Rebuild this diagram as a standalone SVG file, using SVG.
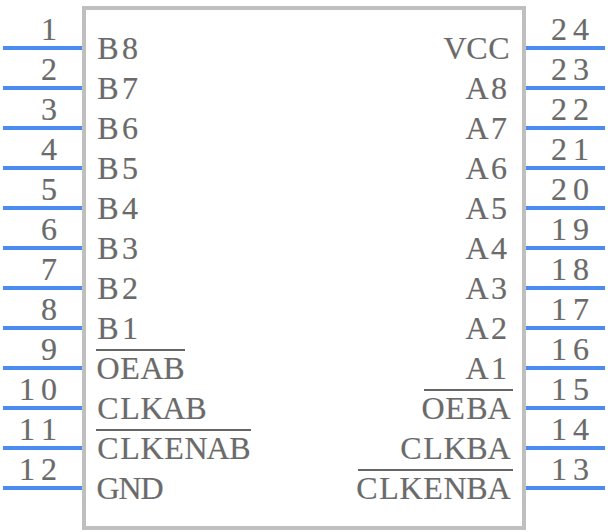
<svg xmlns="http://www.w3.org/2000/svg" width="608" height="532" viewBox="0 0 608 532">
<style>
text{font-family:"Liberation Serif",serif;font-size:32px;fill:#6a6a6a;stroke:#6a6a6a;stroke-width:.2px;text-anchor:middle}
.pin{stroke:#4a8cf0;stroke-width:4;fill:none}
.bar{stroke:#666;stroke-width:2;fill:none}
</style>
<rect width="608" height="532" fill="#fff"/>
<g id="body"><rect x="84" y="8" width="440" height="520" fill="#fff" stroke="#bfbfbf" stroke-width="4"/></g>
<g id="connectors">
<path class="pin" d="M3 48H82M3 88H82M3 128H82M3 168H82M3 208H82M3 248H82M3 288H82M3 328H82M3 368H82M3 408H82M3 448H82M3 488H82"/>
<path class="pin" d="M526 48H605M526 88H605M526 128H605M526 168H605M526 208H605M526 248H605M526 288H605M526 328H605M526 368H605M526 408H605M526 448H605M526 488H605"/>
</g>
<g id="pin-numbers-left">
<text x="49" y="40">1</text>
<text x="49" y="80">2</text>
<text x="49" y="120">3</text>
<text x="49" y="160">4</text>
<text x="49" y="200">5</text>
<text x="49" y="240">6</text>
<text x="49" y="280">7</text>
<text x="49" y="320">8</text>
<text x="49" y="360">9</text>
<text x="27 49" y="400">10</text>
<text x="27 49" y="440">11</text>
<text x="27 49" y="480">12</text>
</g>
<g id="pin-numbers-right">
<text x="559 581" y="40">24</text>
<text x="559 581" y="80">23</text>
<text x="559 581" y="120">22</text>
<text x="559 581" y="160">21</text>
<text x="559 581" y="200">20</text>
<text x="559 581" y="240">19</text>
<text x="559 581" y="280">18</text>
<text x="559 581" y="320">17</text>
<text x="559 581" y="360">16</text>
<text x="559 581" y="400">15</text>
<text x="559 581" y="440">14</text>
<text x="559 581" y="480">13</text>
</g>
<g id="labels-left">
<text x="108 130" y="59">B8</text>
<text x="108 130" y="99">B7</text>
<text x="108 130" y="139">B6</text>
<text x="108 130" y="179">B5</text>
<text x="108 130" y="219">B4</text>
<text x="108 130" y="259">B3</text>
<text x="108 130" y="299">B2</text>
<text x="108 130" y="339">B1</text>
<text x="108 130 152 174" y="379">OEAB</text>
<text x="108 130 152 174 196" y="419">CLKAB</text>
<text x="108 130 152 174 196 218 240" y="459">CLKENAB</text>
<text x="108 130 152" y="499">GND</text>
<path class="bar" d="M96 350H185M96 430H251"/>
</g>
<g id="labels-right">
<text x="455 477 499" y="59">VCC</text>
<text x="477 499" y="99">A8</text>
<text x="477 499" y="139">A7</text>
<text x="477 499" y="179">A6</text>
<text x="477 499" y="219">A5</text>
<text x="477 499" y="259">A4</text>
<text x="477 499" y="299">A3</text>
<text x="477 499" y="339">A2</text>
<text x="477 499" y="379">A1</text>
<text x="433 455 477 499" y="419">OEBA</text>
<text x="411 433 455 477 499" y="459">CLKBA</text>
<text x="367 389 411 433 455 477 499" y="499">CLKENBA</text>
<path class="bar" d="M424 390H513M358 470H513"/>
</g>
</svg>
